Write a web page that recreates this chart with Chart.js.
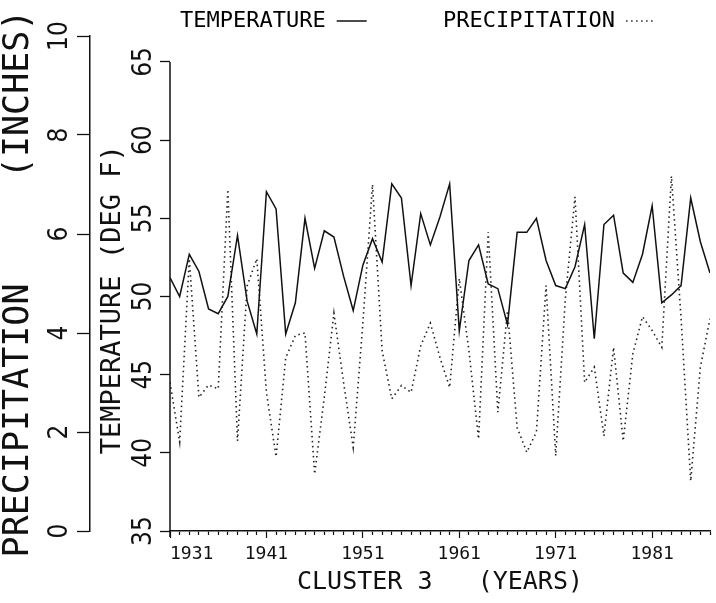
<!DOCTYPE html>
<html>
<head>
<meta charset="utf-8">
<script src="https://cdn.jsdelivr.net/npm/chart.js@4.4.1/dist/chart.umd.min.js"></script>
<style>
  html, body { margin: 0; padding: 0; background: #ffffff; }
  #wrap { width: 716px; height: 603px; }
</style>
</head>
<body>
<div id="wrap"><canvas id="c" width="716" height="603"></canvas></div>
<script>
// ---- data ----
const years = [
  1931,1932,1933,1934,1935,1936,1937,1938,1939,1940,
  1941,1942,1943,1944,1945,1946,1947,1948,1949,1950,
  1951,1952,1953,1954,1955,1956,1957,1958,1959,1960,
  1961,1962,1963,1964,1965,1966,1967,1968,1969,1970,
  1971,1972,1973,1974,1975,1976,1977,1978,1979,1980,
  1981,1982,1983,1984,1985,1986,1987
];
const temperature = [
  51.2,50.0,52.7,51.6,49.2,48.9,50.0,53.9,49.7,47.6,
  56.7,55.6,47.6,49.6,55.0,51.8,54.2,53.8,51.3,49.1,
  52.0,53.7,52.2,57.2,56.3,50.7,55.3,53.3,55.1,57.2,
  47.8,52.3,53.3,50.8,50.5,48.2,54.1,54.1,55.0,52.3,
  50.7,50.5,51.9,54.6,47.3,54.6,55.2,51.5,50.9,52.7,
  55.8,49.6,50.1,50.7,56.3,53.5,51.5
];
const precipitation = [
  3.0,1.8,5.5,2.7,2.95,2.87,6.9,1.82,4.95,5.5,
  2.8,1.5,3.5,3.95,4.0,1.15,2.7,4.4,3.0,1.69,
  4.2,7.0,3.64,2.67,2.94,2.8,3.74,4.2,3.5,2.9,
  5.1,3.64,1.86,6.04,2.4,4.45,2.09,1.59,2.0,4.96,
  1.52,4.7,6.75,3.0,3.31,1.92,3.71,1.82,3.58,4.33,
  4.05,3.71,7.17,4.3,1.01,3.31,4.29
];
const xTickYears = [1931,1941,1951,1961,1971,1981];
const tempTicks = [35,40,45,50,55,60,65];
const precipTicks = [0,2,4,6,8,10];
const tempTitle = 'TEMPERATURE (DEG F)';
const precipTitle = 'PRECIPITATION     (INCHES)';
const xTitle = 'CLUSTER 3   (YEARS)';
const legendTemp = 'TEMPERATURE';
const legendPrecip = 'PRECIPITATION';

// ---- chart ----
const MONO = "'DejaVu Sans Mono', 'Liberation Mono', monospace";
const NARROW = "'Liberation Sans Narrow', 'DejaVu Sans Condensed', sans-serif";
const INK = '#111111';

Chart.defaults.font.family = MONO;
Chart.defaults.color = INK;

const tempAxisLine = {
  id: 'tempAxisLine',
  afterDraw(chart) {
    const s = chart.scales.yT;
    const ctx = chart.ctx;
    ctx.save();
    ctx.strokeStyle = INK;
    ctx.lineWidth = 1.5;
    ctx.beginPath();
    ctx.moveTo(s.right, s.getPixelForValue(tempTicks[tempTicks.length - 1]));
    ctx.lineTo(s.right, s.getPixelForValue(tempTicks[0]) + 6);
    ctx.stroke();
    ctx.restore();
  }
};

new Chart(document.getElementById('c'), {
  type: 'line',
  data: {
    datasets: [
      {
        label: legendTemp,
        data: years.map((y, i) => ({ x: y, y: temperature[i] })),
        yAxisID: 'yT',
        borderColor: INK,
        borderWidth: 1.5,
        pointRadius: 0,
        tension: 0,
        fill: false
      },
      {
        label: legendPrecip,
        data: years.map((y, i) => ({ x: y, y: precipitation[i] })),
        yAxisID: 'yP',
        borderColor: '#222222',
        borderWidth: 1.6,
        borderDash: [1.5, 3.5],
        pointRadius: 0,
        tension: 0,
        fill: false
      }
    ]
  },
  options: {
    responsive: false,
    animation: false,
    devicePixelRatio: 1,
    layout: { padding: 0 },
    plugins: {
      tooltip: { enabled: false },
      legend: {
        display: true,
        position: 'top',
        fullSize: false,
        align: 'end',
        rtl: true,
        maxHeight: 36,
        labels: {
          usePointStyle: true,
          pointStyleWidth: 30,
          padding: 10,
          color: INK,
          font: { family: MONO, size: 22 },
          generateLabels: (chart) => {
            const ds = chart.data.datasets;
            return [
              { text: '     ' + ds[1].label, fillStyle: 'rgba(0,0,0,0)', strokeStyle: ds[1].borderColor,
                lineWidth: 1.6, lineDash: [1.5, 3.5], pointStyle: 'line', hidden: false, datasetIndex: 1 },
              { text: ds[0].label, fillStyle: 'rgba(0,0,0,0)', strokeStyle: ds[0].borderColor,
                lineWidth: 1.5, lineDash: [], pointStyle: 'line', hidden: false, datasetIndex: 0 }
            ];
          }
        }
      }
    },
    scales: {
      x: {
        type: 'linear',
        position: 'bottom',
        min: years[0],
        max: years[years.length - 1],
        afterBuildTicks: (s) => { s.ticks = years.map(v => ({ value: v })); },
        afterFit: (s) => { s.height = 72; },
        ticks: {
          autoSkip: false,
          minRotation: 0,
          maxRotation: 0,
          padding: 6,
          color: INK,
          font: { family: MONO, size: 18 },
          callback: (v) => {
            const i = xTickYears.indexOf(v);
            if (i < 0) return '';
            return i === 0 ? '    ' + v : String(v);
          }
        },
        grid: {
          drawOnChartArea: false,
          drawTicks: true,
          tickLength: 7,
          tickColor: INK,
          tickWidth: 1.2,
          tickBorderDash: (ctx) => (ctx.tick && xTickYears.includes(ctx.tick.value)) ? [] : [3.5, 20]
        },
        border: { display: true, color: INK, width: 1.5 },
        title: {
          display: true,
          text: xTitle,
          color: INK,
          font: { family: MONO, size: 25, lineHeight: 1.2 },
          padding: { top: 0, bottom: 6 }
        }
      },
      yT: {
        type: 'linear',
        position: 'left',
        weight: 0,
        min: 35,
        max: 66.66,
        afterBuildTicks: (s) => { s.ticks = tempTicks.map(v => ({ value: v })); },
        afterFit: (s) => { s.width = 80; },
        ticks: {
          autoSkip: false,
          minRotation: 90,
          maxRotation: 90,
          crossAlign: 'center',
          padding: 1,
          color: INK,
          font: { family: NARROW, size: 26 }
        },
        grid: { drawOnChartArea: false, tickLength: 10, tickColor: INK, tickWidth: 1.3 },
        border: { display: false },
        title: {
          display: true,
          text: tempTitle + '  ',
          color: INK,
          font: { family: MONO, size: 27, lineHeight: 1 },
          padding: { top: 9, bottom: 0 }
        }
      },
      yP: {
        type: 'linear',
        position: 'left',
        weight: 1,
        min: 0,
        max: 10,
        afterBuildTicks: (s) => { s.ticks = precipTicks.map(v => ({ value: v })); },
        afterFit: (s) => { s.width = 90; },
        ticks: {
          autoSkip: false,
          minRotation: 90,
          maxRotation: 90,
          crossAlign: 'center',
          padding: 2,
          color: INK,
          font: { family: NARROW, size: 26 }
        },
        grid: { drawOnChartArea: false, tickLength: 13, tickColor: INK, tickWidth: 1.3 },
        border: { display: true, color: INK, width: 1.5 },
        title: {
          display: true,
          text: precipTitle,
          color: INK,
          font: { family: MONO, size: 35, lineHeight: 1 },
          padding: { top: 1, bottom: 0 }
        }
      }
    }
  },
  plugins: [tempAxisLine]
});
</script>
</body>
</html>
